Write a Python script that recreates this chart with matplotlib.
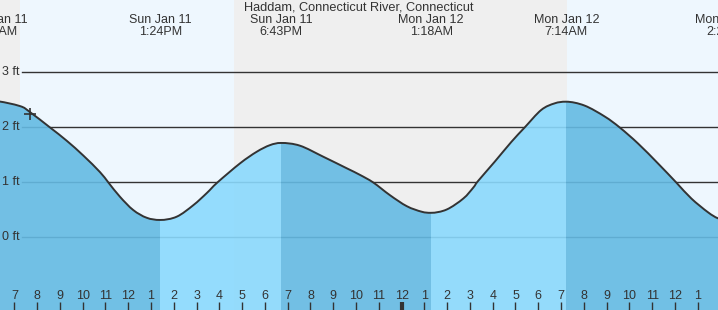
import matplotlib.pyplot as plt
from matplotlib.transforms import blended_transform_factory
from matplotlib.path import Path
from matplotlib.patches import PathPatch, Rectangle
import numpy as np

plt.rcParams['font.family'] = ['Liberation Sans', 'DejaVu Sans']

# hours since Sun Jan 11 00:00, tide height in ft
hours = [6.20, 7.25, 7.69, 8.57, 9.30, 10.03, 10.76, 11.13, 11.64, 12.22, 12.81,
         13.40,
         14.13, 14.86, 15.45, 15.91, 16.91, 17.64, 18.22,
         18.72,
         19.54, 20.56, 21.59, 22.17, 22.76, 23.49, 24.23, 24.88,
         25.30,
         25.98, 26.71, 27.15, 27.36, 28.09, 28.82, 29.40, 30.13, 30.72,
         31.23,
         32.03, 32.92, 33.58, 34.38, 35.25, 36.06, 36.72, 37.45, 37.89, 38.33]
heights = [2.47, 2.38, 2.27, 1.99, 1.75, 1.48, 1.18, 0.99, 0.73, 0.49, 0.35,
           0.31,
           0.37, 0.58, 0.80, 0.99, 1.34, 1.55, 1.67,
           1.71,
           1.66, 1.46, 1.25, 1.13, 0.99, 0.76, 0.56, 0.46,
           0.44,
           0.50, 0.70, 0.90, 1.02, 1.37, 1.73, 1.99, 2.31, 2.43,
           2.46,
           2.39, 2.19, 1.99, 1.70, 1.34, 0.99, 0.70, 0.45, 0.34, 0.30]

# high / low tide events
event_hours = [6.20, 13.40, 18.72, 25.30, 31.23, 38.33]
event_labels = ['Sun Jan 11\n6:12AM', 'Sun Jan 11\n1:24PM', 'Sun Jan 11\n6:43PM',
                'Mon Jan 12\n1:18AM', 'Mon Jan 12\n7:14AM', 'Mon Jan 12\n2:20PM']

# sunrise / sunset
sunrise = [7.25, 31.25]
sunset = [16.64]

title = 'Haddam, Connecticut River, Connecticut'
y_ticks = [0, 1, 2, 3]
hour_ticks = list(range(7, 38))
now_hour, now_height = 7.69, 2.24

x0, x1 = 6.37, 37.89
y0, y1 = -1.327, 4.309
txt_col = '#333333'


def smooth_path(xs, ys, flat):
    # cubic bezier through the read points, flat tangent at high / low tide
    pts = np.column_stack([xs, ys])
    n = len(pts)
    tang = []
    for i in range(n):
        p_prev = pts[max(i - 1, 0)]
        p_next = pts[min(i + 1, n - 1)]
        tv = (p_next - p_prev) / 2.0
        if i in flat:
            tv[1] = 0.0
        tang.append(tv)
    verts = [pts[0]]
    codes = [Path.MOVETO]
    for i in range(n - 1):
        verts += [pts[i] + tang[i] / 3.0, pts[i + 1] - tang[i + 1] / 3.0, pts[i + 1]]
        codes += [Path.CURVE4] * 3
    return verts, codes


fig = plt.figure(figsize=(7.18, 3.10), dpi=100)
ax = fig.add_axes([0, 0, 1, 1])
ax.set_xlim(x0, x1)
ax.set_ylim(y0, y1)
ax.axis('off')

# day / night background
night_col = '#efefef'
day_col = '#eef7fe'
ax.axvspan(x0 - 1, sunrise[0], color=night_col, lw=0, zorder=0)
ax.axvspan(sunrise[0], sunset[0], color=day_col, lw=0, zorder=0)
ax.axvspan(sunset[0], sunrise[1], color=night_col, lw=0, zorder=0)
ax.axvspan(sunrise[1], x1 + 1, color=day_col, lw=0, zorder=0)

# horizontal grid lines and labels
for v in y_ticks:
    ax.axhline(v, xmin=22 / 718, xmax=1, color=txt_col, lw=1, zorder=1)
    ax.text(x0 + 19.5 / 22.78, v, '%d ft' % v, ha='right', va='center',
            fontsize=9, color=txt_col, zorder=5)

h = np.array(hours)
t = np.array(heights)
idx = [int(np.argmin(abs(h - e))) for e in event_hours]
verts, codes = smooth_path(h, t, set(idx))

# fill under the curve, falling tide darker, rising tide lighter
fill_verts = verts + [(h[-1], y0 - 1), (h[0], y0 - 1), (h[0], t[0])]
fill_codes = codes + [Path.LINETO, Path.LINETO, Path.CLOSEPOLY]
fill_path = Path(fill_verts, fill_codes)
for k in range(len(idx) - 1):
    a, b = idx[k], idx[k + 1]
    col = '#8ad9fd' if t[b] > t[a] else '#64bae3'
    patch = PathPatch(fill_path, facecolor=col, edgecolor='none', alpha=0.9, zorder=2)
    ax.add_patch(patch)
    clip = Rectangle((h[a], y0 - 1), h[b] - h[a], y1 - y0 + 2, transform=ax.transData)
    patch.set_clip_path(clip)

line = PathPatch(Path(verts, codes), facecolor='none', edgecolor=txt_col, lw=1.4, zorder=3)
ax.add_patch(line)

# current time marker
ax.plot([now_hour], [now_height], marker='+', ms=9, mew=1.2, color=txt_col, zorder=4)

# top labels
trans = blended_transform_factory(ax.transData, ax.transAxes)
ax.text(0.5, 1 - 7.5 / 310, title, transform=ax.transAxes, ha='center', va='center',
        fontsize=9.2, color=txt_col)
for e, lab in zip(event_hours, event_labels):
    ax.text(e, 1 - 26 / 310, lab, transform=trans, ha='center', va='center',
            fontsize=9, color=txt_col, linespacing=1.1)

# hour ticks along the bottom
for hr in hour_ticks:
    lab = hr % 12
    if lab == 0:
        lab = 12
    lw = 3 if hr == 24 else 1
    ax.plot([hr, hr], [0, 8 / 310], transform=trans, color=txt_col, lw=lw,
            solid_capstyle='butt', zorder=5)
    ax.text(hr, 14 / 310, str(lab), transform=trans, ha='center', va='center',
            fontsize=9, color=txt_col, zorder=5)

fig.savefig('out.png', dpi=100)
